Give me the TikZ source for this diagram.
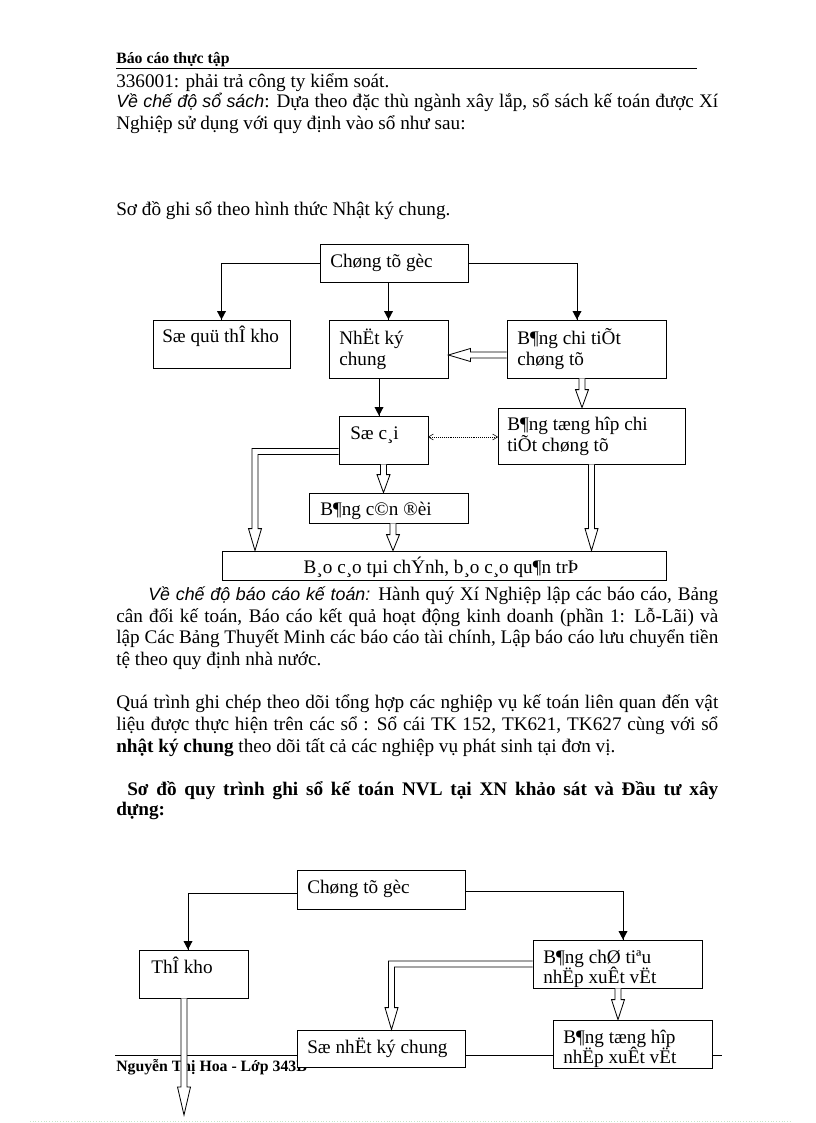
\documentclass[tikz,border=0pt]{standalone}
\usepackage{fontspec}
\setmainfont{Liberation Serif}
\newfontfamily\itsans{Liberation Sans}
\usetikzlibrary{arrows.meta,calc}
\newlength\U \setlength\U{0.72917pt}
\definecolor{pagebreak}{RGB}{200,228,200}
\def\sw{3}\def\hW{6.5}\def\hL{22}
% hollow block arrow pointing left from #1 to #2
\newcommand\harrL[2]{\draw[hshape] ($(#1)+(0,-\sw)$) -- ($(#2)+(\hL,-\sw)$) -- ($(#2)+(\hL,-\hW)$) -- (#2) -- ($(#2)+(\hL,\hW)$) -- ($(#2)+(\hL,\sw)$) -- ($(#1)+(0,\sw)$);}
% hollow block arrow pointing down from #1 to #2, head length #3
\newcommand\varrD[3]{\draw[hshape] ($(#1)+(-\sw,0)$) -- ($(#2)+(-\sw,-#3)$) -- ($(#2)+(-\hW,-#3)$) -- (#2) -- ($(#2)+(\hW,-#3)$) -- ($(#2)+(\sw,-#3)$) -- ($(#1)+(\sw,0)$);}
% hollow block arrow going left from #1 to corner #2, then down to #3
\newcommand\larrLD[3]{\draw[hshape] ($(#1)+(0,-\sw)$) -- ($(#2)+(-\sw,-\sw)$) -- ($(#3)+(-\sw,-\hL)$) -- ($(#3)+(-\hW,-\hL)$) -- (#3) -- ($(#3)+(\hW,-\hL)$) -- ($(#3)+(\sw,-\hL)$) -- ($(#2)+(\sw,\sw)$) -- ($(#1)+(0,\sw)$);}
% solid arrow head pointing down, tip at #1
\newcommand\dhead[1]{\fill[black] (#1) -- ($(#1)+(-4.5,-8.5)$) -- ($(#1)+(4.5,-8.5)$) -- cycle;}
\begin{document}
\begin{tikzpicture}[x=\U, y=-\U,
  box/.style={draw=black, line width=0.6pt, fill=white, inner sep=0pt},
  txt/.style={anchor=base west, inner sep=0pt, text=black, font=\fontsize{14}{16}\selectfont},
  body/.style={anchor=base west, inner sep=0pt, text=black, font=\fontsize{14}{16}\selectfont},
  small/.style={anchor=base west, inner sep=0pt, text=black, font=\bfseries\fontsize{11.5}{13}\selectfont},
  conn/.style={draw=black, line width=0.5pt},
  hshape/.style={draw=black, line width=0.6pt, fill=white, line join=miter},
  dots/.style={draw=black, line width=0.5pt, dash pattern=on 0.6pt off 0.8pt},
]
\useasboundingbox (0,0) rectangle (816,1123);

% ---------- header ----------
\node[small] (hdr) at (116,64) {Báo cáo thực tập};
\draw[black, line width=0.6pt] (116,68) -- (697,68);

% ---------- text block 1 ----------
\node[body] (l1) at (116,87) {336001: phải trả công ty kiểm soát.};
\node[body] (l2) at (116,108) {\makebox[602\U][s]{{\itsans\itshape\fontsize{13}{16}\selectfont Về chế độ sổ sách}: Dựa theo đặc thù ngành xây lắp, sổ sách kế toán được Xí}};
\node[body] (l3) at (116,129) {Nghiệp sử dụng với quy định vào sổ như sau:};
\node[body] (l4) at (116,215) {Sơ đồ ghi sổ theo hình thức Nhật ký chung.};

% ---------- diagram 1 ----------
\node[box, minimum width=148\U, minimum height=38\U] (g1) at (394,263) {};
\node[txt] (g1t) at (330,267) {Chøng tõ gèc};
\node[box, minimum width=137\U, minimum height=48\U] (qk) at (221.5,344) {};
\node[txt] (qkt) at (162,342) {Sæ quü thÎ kho};
\node[box, minimum width=119\U, minimum height=58\U] (nk) at (388.5,349) {};
\node[txt] (nkt1) at (339,344) {NhËt ký};
\node[txt] (nkt2) at (339,365) {chung};
\node[box, minimum width=159\U, minimum height=58\U] (ct) at (586.5,349) {};
\node[txt] (ctt1) at (517,344) {B¶ng chi tiÕt};
\node[txt] (ctt2) at (517,365) {chøng tõ};
\node[box, minimum width=89\U, minimum height=48\U] (sc) at (383.5,440) {};
\node[txt] (sct) at (350,439) {Sæ c¸i};
\node[box, minimum width=187\U, minimum height=56\U] (th) at (591.5,436) {};
\node[txt] (tht1) at (507,430) {B¶ng tæng hîp chi};
\node[txt] (tht2) at (507,451) {tiÕt chøng tõ};
\node[box, minimum width=159\U, minimum height=30\U] (cd) at (388.5,508) {};
\node[txt] (cdt) at (320,515) {B¶ng c©n ®èi};
\node[box, minimum width=444\U, minimum height=29\U] (bc) at (444,565.5) {};
\node[txt, anchor=base] (bct0) at (441,573) {B¸o c¸o tµi chÝnh, b¸o c¸o qu¶n trÞ};

\coordinate (c1) at (qk.north);
\coordinate (c2) at (nk.north);
\coordinate (c3) at ([xshift=-9.5\U]ct.north);
\coordinate (c4) at ([xshift=-4.5\U]sc.north);
\draw[conn] (g1.west) -| (c1); \dhead{c1}
\draw[conn] (c2 |- g1.south) -- (c2); \dhead{c2}
\draw[conn] (g1.east) -| (c3); \dhead{c3}
\draw[conn] (c4 |- nk.south) -- (c4); \dhead{c4}

\coordinate (d1) at ([yshift=3\U]sc.east);
\coordinate (d2) at (d1 -| th.west);
\draw[dots] (d1) -- (d2);
\draw[black, line width=0.4pt] ($(d1)+(5,-3)$) -- (d1) -- ($(d1)+(5,3)$);
\draw[black, line width=0.4pt] ($(d2)+(-5,-3)$) -- (d2) -- ($(d2)+(-5,3)$);

\coordinate (a1s) at ([yshift=-6\U]ct.west);
\coordinate (a1e) at (a1s -| nk.east);
\harrL{a1s}{a1e}
\coordinate (a2s) at ([xshift=-4.5\U]ct.south);
\coordinate (a2e) at (a2s |- th.north);
\varrD{a2s}{a2e}{18}
\coordinate (a3s) at (sc.south);
\coordinate (a3e) at (a3s |- cd.north);
\varrD{a3s}{a3e}{18}
\coordinate (a4s) at ([xshift=4.5\U]cd.south);
\coordinate (a4e) at (a4s |- bc.north);
\varrD{a4s}{a4e}{16}
\coordinate (a5s) at (th.south);
\coordinate (a5e) at (a5s |- bc.north);
\varrD{a5s}{a5e}{22}
\coordinate (a6s) at ([yshift=-11.5\U]sc.west);
\coordinate (a6e) at ([xshift=-189\U]bc.north);
\coordinate (a6c) at (a6s -| a6e);
\larrLD{a6s}{a6c}{a6e}

% ---------- text block 2 ----------
\node[body] (p1) at (148,600) {\makebox[570\U][s]{{\itsans\itshape\fontsize{13}{16}\selectfont Về chế độ báo cáo kế toán:} Hành quý Xí Nghiệp lập các báo cáo, Bảng}};
\node[body] (p2) at (116,622) {\makebox[602\U][s]{cân đối kế toán, Báo cáo kết quả hoạt động kinh doanh (phần 1: Lỗ-Lãi) và}};
\node[body] (p3) at (116,643) {\makebox[602\U][s]{lập Các Bảng Thuyết Minh các báo cáo tài chính, Lập báo cáo lưu chuyển tiền}};
\node[body] (p4) at (116,665) {tệ theo quy định nhà nước.};
\node[body] (q1) at (116,708) {\makebox[602\U][s]{Quá trình ghi chép theo dõi tổng hợp các nghiệp vụ kế toán liên quan đến vật}};
\node[body] (q2) at (116,730) {\makebox[602\U][s]{liệu được thực hiện trên các sổ : Sổ cái TK 152, TK621, TK627 cùng với sổ}};
\node[body] (q3) at (116,752) {\textbf{nhật ký chung} theo dõi tất cả các nghiệp vụ phát sinh tại đơn vị.};
\node[body, font=\bfseries\fontsize{14}{16}\selectfont] (s1) at (127,795) {\makebox[591\U][s]{Sơ đồ quy trình ghi sổ kế toán NVL tại XN khảo sát và Đầu tư xây}};
\node[body, font=\bfseries\fontsize{14}{16}\selectfont] (s2) at (116,815) {dựng:};

% ---------- footer ----------
\draw[black, line width=0.6pt] (115,1055) -- (722,1055);
\node[small] (ftr) at (116,1071) {Nguyễn Thị Hoa - Lớp 343B};
\draw[pagebreak, line width=0.6pt, dash pattern=on 0.7pt off 1.3pt] (30,1121.5) -- (790,1121.5);

% ---------- diagram 2 ----------
\node[box, minimum width=168\U, minimum height=39\U] (g2) at (381,889.5) {};
\node[txt] (g2t) at (307,893) {Chøng tõ gèc};
\node[box, minimum width=109\U, minimum height=48\U] (tk) at (193.5,974) {};
\node[txt] (tkt) at (151,973) {ThÎ kho};
\node[box, minimum width=168\U, minimum height=37\U] (nkc) at (381,1048.5) {};
\node[txt] (nkct) at (307,1053) {Sæ nhËt ký chung};
\node[box, minimum width=169\U, minimum height=48\U] (bct) at (617.5,964) {};
\node[txt] (bctt1) at (543,963) {B¶ng chØ tiªu};
\node[txt] (bctt2) at (543,983) {nhËp xuÊt vËt};
\node[box, minimum width=159\U, minimum height=48\U] (bth) at (632.5,1044) {};
\node[txt] (btht1) at (563,1043) {B¶ng tæng hîp};
\node[txt] (btht2) at (563,1063) {nhËp xuÊt vËt};

\coordinate (c5) at ([xshift=-5.5\U]tk.north);
\coordinate (c6) at ([xshift=5.5\U]bct.north);
\draw[conn] ([yshift=-3.5\U]g2.west) -| (c5); \dhead{c5}
\draw[conn] ([yshift=-1.5\U]g2.east) -| (c6); \dhead{c6}

\coordinate (b1s) at ([xshift=-9.5\U]tk.south);
\coordinate (tkend) at (184,1115);
\varrD{b1s}{tkend}{28}
\coordinate (b2s) at (bct.west);
\coordinate (b2e) at ([xshift=10.5\U]nkc.north);
\coordinate (b2c) at (b2s -| b2e);
\larrLD{b2s}{b2c}{b2e}
\coordinate (b3s) at ([xshift=0.5\U]bct.south);
\coordinate (b3e) at (b3s |- bth.north);
\varrD{b3s}{b3e}{20}
\end{tikzpicture}
\end{document}
